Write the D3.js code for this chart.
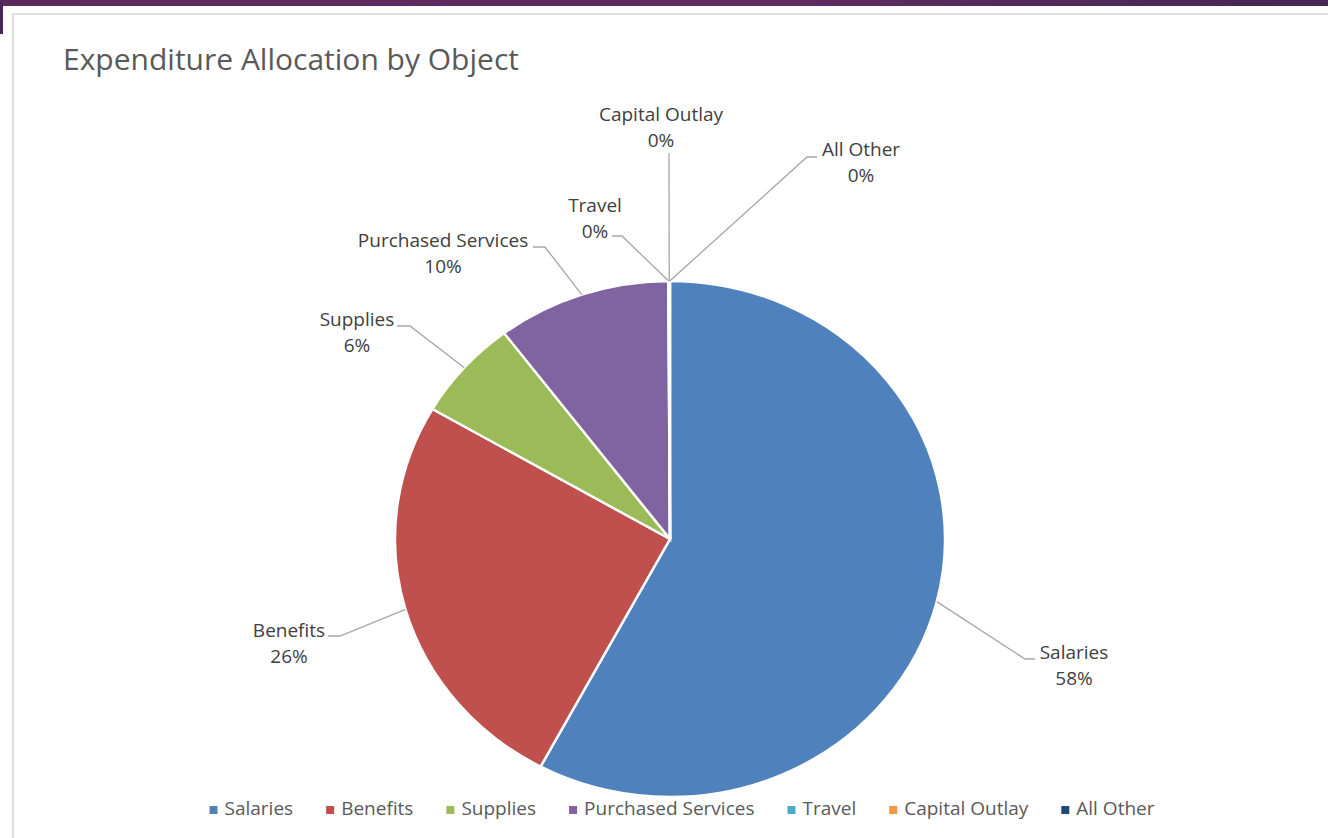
<!DOCTYPE html>
<html>
<head>
<meta charset="utf-8">
<script src="https://cdn.jsdelivr.net/npm/d3@7"></script>
<style>
  body { margin: 0; background: #fff; }
  svg { display: block; }
</style>
</head>
<body>
<script>
// chart data
const categories = ["Salaries", "Benefits", "Supplies", "Purchased Services", "Travel", "Capital Outlay", "All Other"];
const values = [57.8, 25.6, 6.3, 10.2, 0.04, 0.03, 0.03];
const colors = ["#4f81bd", "#c0504d", "#9bbb59", "#8064a2", "#4bacc6", "#f79646", "#1f497d"];
const chartTitle = "Expenditure Allocation by Object";

// where each data label sits: text centre x, first baseline, leader elbow + end
const labelLayout = {
  "Salaries":           {x: 1074, y: 659, ex: 1025, ey: 659, fx: 1035},
  "Benefits":           {x: 289,  y: 637, ex: 340,  ey: 636, fx: 328},
  "Supplies":           {x: 357,  y: 326, ex: 410,  ey: 326, fx: 397},
  "Purchased Services": {x: 443,  y: 247, ex: 545,  ey: 247, fx: 533},
  "Travel":             {x: 595,  y: 212, ex: 622,  ey: 236, fx: 612},
  "Capital Outlay":     {x: 661,  y: 121, ex: 669,  ey: 153, fx: 669},
  "All Other":          {x: 861,  y: 156, ex: 807,  ey: 157, fx: 817}
};

class PieChart {
  constructor() {
    this.width = 1328;
    this.height = 838;
    this.cx = 670;
    this.cy = 539;
    this.rx = 275;
    this.ry = 258;
    this.font = "'Open Sans', 'Liberation Sans', sans-serif";

    this.data = categories.map((c, i) => ({name: c, value: values[i], color: colors[i]}));
    this.total = d3.sum(values);

    this.svg = d3.select("body").append("svg")
      .attr("width", this.width)
      .attr("height", this.height);

    this.drawFrame();
    this.drawPie();
    this.drawLabels();
    this.drawLegend();
  }

  drawFrame() {
    const defs = this.svg.append("defs");
    const grad = defs.append("linearGradient").attr("id", "topbar");
    grad.append("stop").attr("offset", "0%").attr("stop-color", "#5a2960");
    grad.append("stop").attr("offset", "60%").attr("stop-color", "#5e2b63");
    grad.append("stop").attr("offset", "100%").attr("stop-color", "#472656");

    this.svg.append("rect")
      .attr("x", 0).attr("y", 0)
      .attr("width", this.width).attr("height", 6)
      .attr("fill", "url(#topbar)");
    this.svg.append("rect")
      .attr("x", 0).attr("y", 0)
      .attr("width", 3).attr("height", 34)
      .attr("fill", "#4c2658");

    // chart area border
    this.svg.append("rect")
      .attr("x", 13).attr("y", 14)
      .attr("width", this.width + 20).attr("height", this.height + 20)
      .attr("fill", "#fff")
      .attr("stroke", "#dedede")
      .attr("stroke-width", 2);

    this.svg.append("text")
      .attr("x", 63).attr("y", 70)
      .attr("fill", "#595959")
      .style("font-family", this.font)
      .style("font-size", "30px")
      .text(chartTitle);
  }

  drawPie() {
    this.pie = d3.pie().sort(null).value(d => d.value);
    this.arcs = this.pie(this.data);

    const arc = d3.arc().innerRadius(0).outerRadius(this.rx);

    // the reference pie is a bit squashed vertically
    const g = this.svg.append("g")
      .attr("transform", `translate(${this.cx},${this.cy}) scale(1,${this.ry / this.rx})`);

    g.selectAll("path")
      .data(this.arcs)
      .join("path")
      .attr("d", arc)
      .attr("fill", d => d.data.color)
      .attr("stroke", "#fff")
      .attr("stroke-width", 2.5);
  }

  drawLabels() {
    const g = this.svg.append("g");

    for (let a of this.arcs) {
      const pos = labelLayout[a.data.name];
      const mid = (a.startAngle + a.endAngle) / 2;
      const px = this.cx + this.rx * Math.sin(mid);
      const py = this.cy - this.ry * Math.cos(mid);

      g.append("polyline")
        .attr("points", [[px, py], [pos.ex, pos.ey], [pos.fx, pos.ey]].map(p => p.join(",")).join(" "))
        .attr("fill", "none")
        .attr("stroke", "#a6a6a6")
        .attr("stroke-width", 1.3);

      const pct = Math.round(a.data.value / this.total * 100) + "%";
      const t = g.append("text")
        .attr("text-anchor", "middle")
        .attr("fill", "#404040")
        .style("font-family", this.font)
        .style("font-size", "19px");
      t.append("tspan").attr("x", pos.x).attr("y", pos.y).text(a.data.name);
      t.append("tspan").attr("x", pos.x).attr("y", pos.y + 26).text(pct);
    }
  }

  drawLegend() {
    const g = this.svg.append("g");
    const items = [];
    let x = 0;

    for (let d of this.data) {
      const item = g.append("g");
      item.append("rect")
        .attr("x", 0).attr("y", -9)
        .attr("width", 8).attr("height", 8)
        .attr("fill", d.color);
      const txt = item.append("text")
        .attr("x", 15).attr("y", 0)
        .attr("fill", "#595959")
        .style("font-family", this.font)
        .style("font-size", "19px")
        .text(d.name);
      const w = 15 + txt.node().getComputedTextLength();
      items.push({item, x});
      x += w + 33;
    }
    const totalW = x - 33;
    const start = 682 - totalW / 2;
    for (let it of items) {
      it.item.attr("transform", `translate(${start + it.x},815)`);
    }
  }
}

let pieChart = new PieChart();
</script>
</body>
</html>
